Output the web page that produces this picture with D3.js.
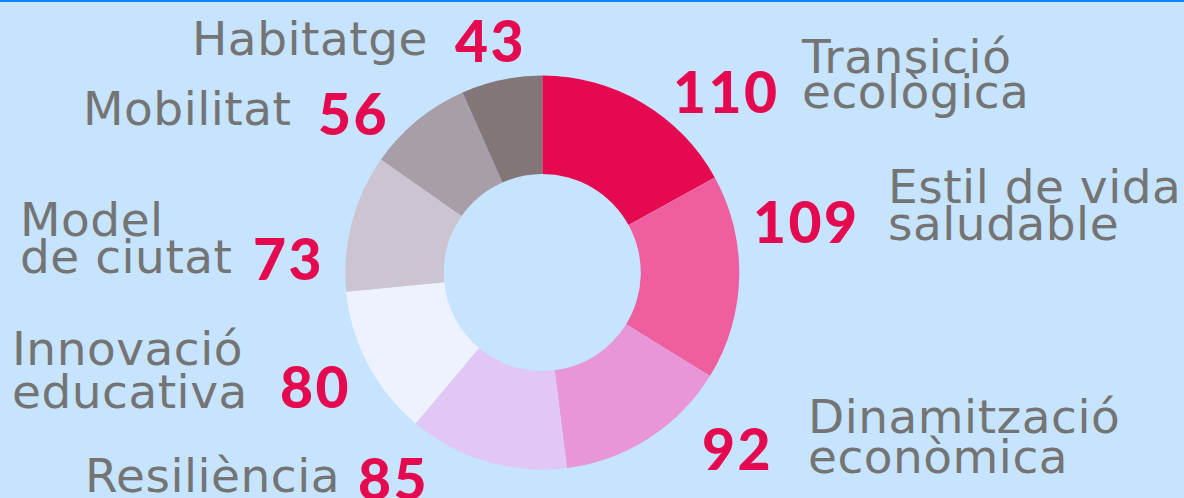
<!doctype html>
<html>
  <head>
    <meta charset="utf-8">
    <script src="https://cdn.jsdelivr.net/npm/d3@7"></script>
    <style>
      body { margin: 0; background: #c6e4fd; }
      svg { display: block; }
      .lbl { font-family: "DejaVu Sans", sans-serif; font-weight: 400; fill: #747474; }
      .num { font-family: "Lato", sans-serif; font-weight: 900; fill: #e50a4f; }
    </style>
  </head>
  <body>
    <div id="chart"></div>
    <script>
      // data
      var categories = ["Transició ecològica", "Estil de vida saludable", "Dinamització econòmica",
        "Resiliència", "Innovació educativa", "Model de ciutat", "Mobilitat", "Habitatge"];
      var labelLines = [["Transició", "ecològica"], ["Estil de vida", "saludable"], ["Dinamització", "econòmica"],
        ["Resiliència"], ["Innovació", "educativa"], ["Model", "de ciutat"], ["Mobilitat"], ["Habitatge"]];
      var values = [110, 109, 92, 85, 80, 73, 56, 43];
      var colors = ["#e50a4f", "#ef5f9e", "#e896d8", "#e1c6f6", "#eef1fe", "#cdc4d1", "#a89ea8", "#837679"];

      // label layout: number x / baseline, text x / first baseline, line step
      var layout = [
        {nx: 673, ny: 113, tx: 802, ty: 73, step: 35},
        {nx: 753, ny: 243, tx: 888, ty: 203, step: 37},
        {nx: 702, ny: 470, tx: 808, ty: 433, step: 40},
        {nx: 358, ny: 500, tx: 85, ty: 492, step: 0},
        {nx: 280, ny: 408, tx: 12, ty: 365, step: 43},
        {nx: 253, ny: 280, tx: 20, ty: 236, step: 37},
        {nx: 318, ny: 135, tx: 83, ty: 125, step: 0},
        {nx: 455, ny: 62, tx: 192, ty: 55, step: 0}
      ];

      var width = 1184, height = 498;
      var cx = 542.3, cy = 272.6;

      var svg = d3.select("#chart")
        .append("svg")
        .attr("width", width)
        .attr("height", height);

      svg.append("rect")
        .attr("width", width).attr("height", height)
        .attr("fill", "#c6e4fd");
      svg.append("rect")
        .attr("width", width).attr("height", 2)
        .attr("fill", "#0a84ff");

      var pie = d3.pie().sort(null).value(function(d) { return d; });
      var arc = d3.arc().innerRadius(98.5).outerRadius(197);

      var data = values.map(function(v, i) { return {value: v, cat: categories[i]}; });

      svg.append("g")
        .attr("transform", "translate(" + cx + "," + cy + ")")
        .selectAll("path")
        .data(pie(values))
        .enter()
        .append("path")
          .attr("d", arc)
          .attr("fill", function(d, i) { return colors[i]; });

      // labels
      var labels = svg.selectAll(".label")
        .data(data)
        .enter()
        .append("g")
        .attr("class", "label");

      labels.append("text")
        .attr("class", "lbl")
        .attr("font-size", 47)
        .attr("letter-spacing", 0.5)
        .attr("x", function(d, i) { return layout[i].tx; })
        .attr("y", function(d, i) { return layout[i].ty; })
        .selectAll("tspan")
        .data(function(d, i) { return labelLines[i].map(function(t) { return {t: t, i: i}; }); })
        .enter()
        .append("tspan")
          .attr("x", function(d) { return layout[d.i].tx; })
          .attr("dy", function(d, j) { return j === 0 ? 0 : layout[d.i].step; })
          .text(function(d) { return d.t; });

      labels.append("text")
        .attr("class", "num")
        .attr("font-size", 57)
        .attr("letter-spacing", 2.5)
        .attr("x", function(d, i) { return layout[i].nx; })
        .attr("y", function(d, i) { return layout[i].ny; })
        .text(function(d) { return d.value; });
    </script>
  </body>
</html>
